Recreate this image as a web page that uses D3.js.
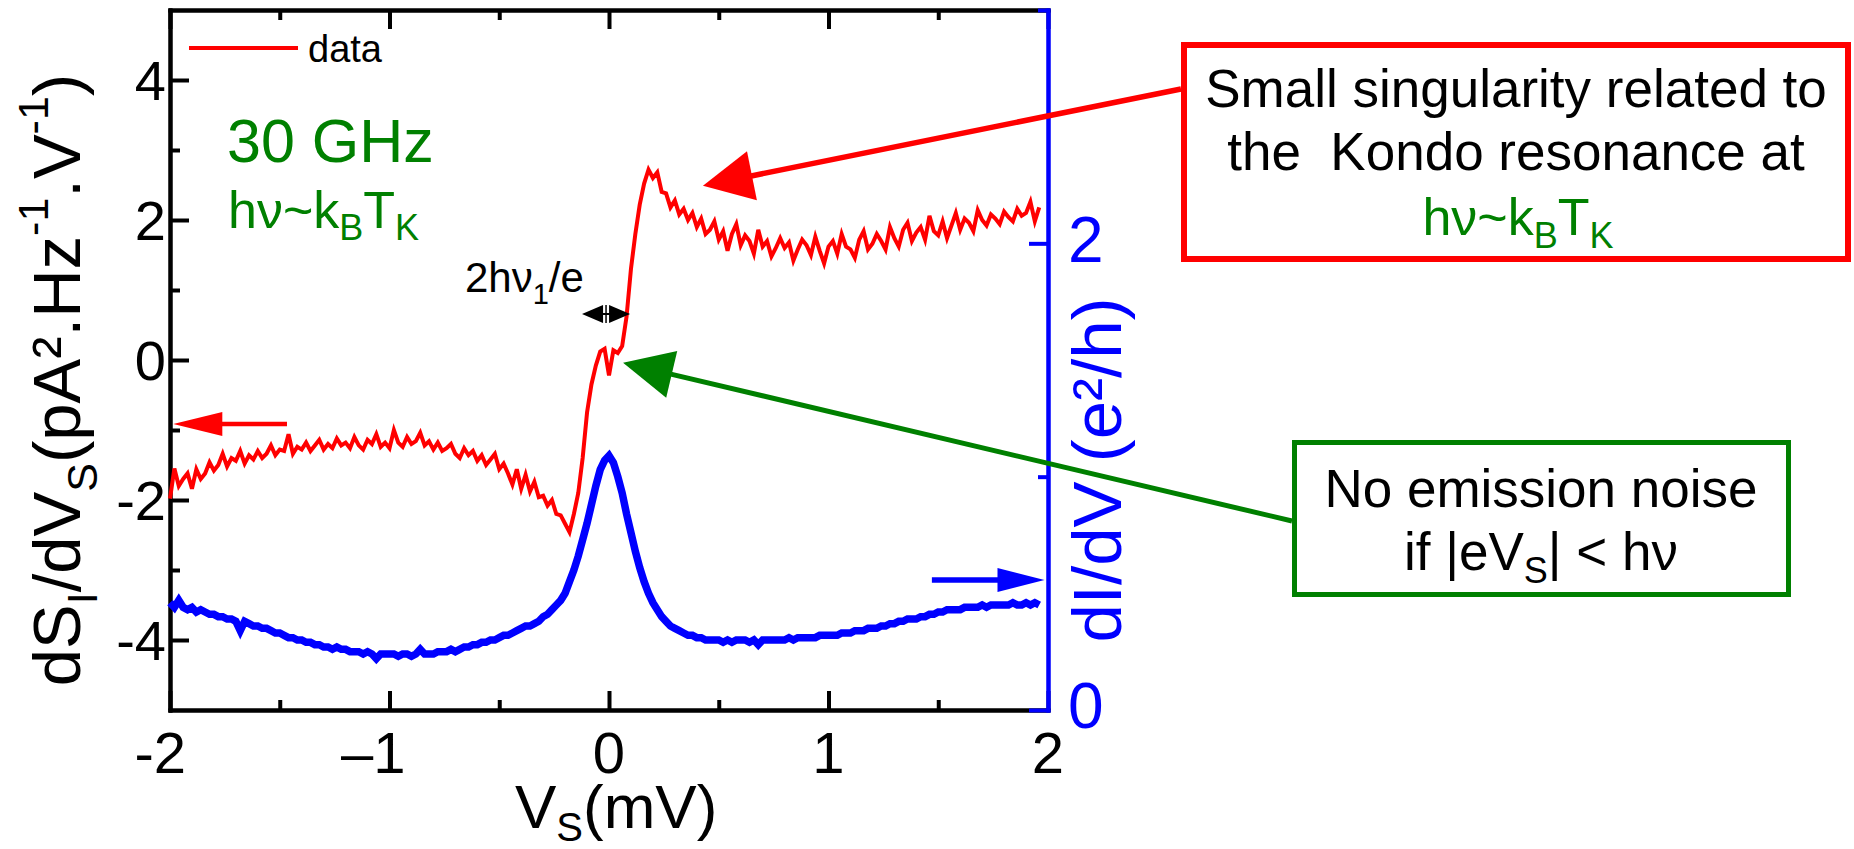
<!DOCTYPE html>
<html><head><meta charset="utf-8">
<script src="https://cdn.jsdelivr.net/npm/d3@7"></script>
<style>
html,body{margin:0;padding:0;background:#fff;}
svg{display:block;font-family:"Liberation Sans",Arial,sans-serif;}
</style></head>
<body><svg id="chart" width="1854" height="849"></svg>
<script>
// ---------- data ----------
const voltages = [
 -2.00,-1.98,-1.96,-1.94,-1.92,-1.90,-1.88,-1.86,-1.84,-1.82,
 -1.80,-1.78,-1.76,-1.74,-1.72,-1.70,-1.68,-1.66,-1.64,-1.62,
 -1.60,-1.58,-1.56,-1.54,-1.52,-1.50,-1.48,-1.46,-1.44,-1.42,
 -1.40,-1.38,-1.36,-1.34,-1.32,-1.30,-1.28,-1.26,-1.24,-1.22,
 -1.20,-1.18,-1.16,-1.14,-1.12,-1.10,-1.08,-1.06,-1.04,-1.02,
 -1.00,-0.98,-0.96,-0.94,-0.92,-0.90,-0.88,-0.86,-0.84,-0.82,
 -0.80,-0.78,-0.76,-0.74,-0.72,-0.70,-0.68,-0.66,-0.64,-0.62,
 -0.60,-0.58,-0.56,-0.54,-0.52,-0.50,-0.48,-0.46,-0.44,-0.42,
 -0.40,-0.38,-0.36,-0.34,-0.32,-0.30,-0.28,-0.26,-0.24,-0.22,
 -0.20,-0.18,-0.16,-0.14,-0.12,-0.10,-0.08,-0.06,-0.04,-0.02,
  0.00, 0.02, 0.04, 0.06, 0.08, 0.10, 0.12, 0.14, 0.16, 0.18,
  0.20, 0.22, 0.24, 0.26, 0.28, 0.30, 0.32, 0.34, 0.36, 0.38,
  0.40, 0.42, 0.44, 0.46, 0.48, 0.50, 0.52, 0.54, 0.56, 0.58,
  0.60, 0.62, 0.64, 0.66, 0.68, 0.70, 0.72, 0.74, 0.76, 0.78,
  0.80, 0.82, 0.84, 0.86, 0.88, 0.90, 0.92, 0.94, 0.96, 0.98,
  1.00, 1.02, 1.04, 1.06, 1.08, 1.10, 1.12, 1.14, 1.16, 1.18,
  1.20, 1.22, 1.24, 1.26, 1.28, 1.30, 1.32, 1.34, 1.36, 1.38,
  1.40, 1.42, 1.44, 1.46, 1.48, 1.50, 1.52, 1.54, 1.56, 1.58,
  1.60, 1.62, 1.64, 1.66, 1.68, 1.70, 1.72, 1.74, 1.76, 1.78,
  1.80, 1.82, 1.84, 1.86, 1.88, 1.90, 1.92, 1.94, 1.96
];
// dS_I/dV_S  (pA².Hz^-1.V^-1), left axis
const noiseDerivative = [
 -1.98,-1.55,-1.80,-1.70,-1.62,-1.84,-1.56,-1.70,-1.62,-1.46,
 -1.58,-1.50,-1.34,-1.52,-1.40,-1.44,-1.30,-1.48,-1.36,-1.42,
 -1.30,-1.40,-1.34,-1.22,-1.36,-1.28,-1.30,-1.06,-1.34,-1.24,
 -1.28,-1.18,-1.30,-1.22,-1.14,-1.28,-1.20,-1.26,-1.12,-1.22,
 -1.18,-1.26,-1.10,-1.22,-1.28,-1.14,-1.20,-1.06,-1.24,-1.18,
 -1.26,-1.00,-1.18,-1.24,-1.10,-1.20,-1.16,-1.04,-1.22,-1.16,
 -1.28,-1.18,-1.30,-1.26,-1.20,-1.34,-1.40,-1.26,-1.36,-1.30,
 -1.44,-1.36,-1.50,-1.42,-1.34,-1.56,-1.48,-1.62,-1.78,-1.56,
 -1.84,-1.64,-1.88,-1.74,-1.96,-1.94,-2.08,-2.00,-2.20,-2.22,
 -2.34,-2.46,-2.20,-1.90,-1.40,-0.75,-0.35,-0.08, 0.12, 0.16,
 -0.22, 0.14, 0.10, 0.20, 0.62, 1.30, 1.80, 2.22, 2.52, 2.72,
  2.60, 2.68, 2.40, 2.38, 2.18, 2.28, 2.08, 2.16, 2.00, 2.10,
  1.90, 2.02, 1.80, 1.86, 1.98, 1.72, 1.84, 1.56, 1.80, 1.94,
  1.64, 1.78, 1.70, 1.52, 1.86, 1.62, 1.70, 1.48, 1.60, 1.74,
  1.60, 1.68, 1.42, 1.58, 1.72, 1.64, 1.50, 1.76, 1.56, 1.38,
  1.62, 1.70, 1.52, 1.80, 1.62, 1.58, 1.46, 1.72, 1.84, 1.58,
  1.66, 1.80, 1.70, 1.58, 1.90, 1.74, 1.62, 1.86, 1.96, 1.70,
  1.82, 1.90, 1.72, 2.06, 1.84, 1.78, 1.98, 1.74, 1.92, 2.10,
  1.86, 2.02, 1.96, 1.84, 2.14, 2.00, 1.92, 2.08, 2.02, 1.94,
  2.12, 2.04, 1.98, 2.16, 2.06, 2.10, 2.26, 1.98, 2.18
];
// dI/dV (e²/h), right axis
const conductance = [
 0.46,0.44,0.47,0.44,0.43,0.44,0.42,0.43,0.42,0.41,
 0.41,0.40,0.40,0.39,0.39,0.38,0.34,0.38,0.37,0.36,
 0.36,0.35,0.35,0.34,0.33,0.33,0.32,0.31,0.31,0.30,
 0.30,0.29,0.29,0.28,0.28,0.27,0.27,0.26,0.27,0.26,
 0.26,0.25,0.25,0.25,0.24,0.25,0.24,0.22,0.24,0.24,
 0.24,0.24,0.23,0.24,0.24,0.23,0.24,0.26,0.24,0.24,
 0.24,0.25,0.25,0.25,0.26,0.25,0.26,0.27,0.27,0.28,
 0.28,0.29,0.29,0.30,0.30,0.31,0.32,0.32,0.33,0.34,
 0.35,0.36,0.36,0.37,0.38,0.40,0.41,0.43,0.45,0.47,
 0.50,0.55,0.60,0.66,0.73,0.80,0.88,0.96,1.03,1.07,
 1.09,1.06,1.00,0.93,0.84,0.76,0.68,0.61,0.55,0.50,
 0.46,0.43,0.40,0.38,0.36,0.35,0.34,0.33,0.32,0.32,
 0.31,0.31,0.30,0.30,0.30,0.30,0.29,0.30,0.29,0.30,
 0.30,0.30,0.29,0.30,0.28,0.30,0.30,0.30,0.30,0.30,
 0.30,0.31,0.30,0.31,0.31,0.31,0.31,0.31,0.32,0.32,
 0.32,0.32,0.32,0.33,0.33,0.33,0.34,0.34,0.34,0.35,
 0.35,0.35,0.36,0.36,0.37,0.37,0.38,0.38,0.39,0.39,
 0.39,0.40,0.40,0.41,0.41,0.42,0.42,0.43,0.43,0.43,
 0.43,0.44,0.44,0.44,0.44,0.45,0.44,0.45,0.45,0.45,
 0.45,0.45,0.46,0.45,0.45,0.46,0.45,0.46,0.45
];
const xTickValues = [-2,-1,0,1,2];
const xTickLabels = ["-2","\u20131","0","1","2"];
const xMinorTicks = [-1.5,-0.5,0.5,1.5];
const yLeftTickValues = [4,2,0,-2,-4];
const yLeftTickLabels = ["4","2","0","-2","-4"];
const yLeftMinorTicks = [3,1,-1,-3];
const yRightTickValues = [0,2];
const yRightTickLabels = ["0","2"];
const yRightMinorTicks = [1,3];

// ---------- layout ----------
const RED="#ff0000", BLUE="#0000ff", GREEN="#008000";
const svg=d3.select("#chart");
svg.append("rect").attr("width",1854).attr("height",849).attr("fill","#fff");
const x=d3.scaleLinear().domain([-2,2]).range([170,1048]);
const yL=d3.scaleLinear().domain([-5,5]).range([710,10]);
const yR=d3.scaleLinear().domain([0,3]).range([710,10]);

function styleAxis(g,color){
  g.select(".domain").attr("stroke",color).attr("stroke-width",4).attr("stroke-linecap","square");
  g.selectAll(".tick line").attr("stroke",color).attr("stroke-width",4);
  g.selectAll(".tick text").remove();
}
function addAxis(gen,tr,vals,size,color){
  const g=svg.append("g").attr("transform",tr)
    .call(gen.tickValues(vals).tickSize(-size).tickSizeOuter(0).tickFormat(""));
  styleAxis(g,color);
}
addAxis(d3.axisBottom(x),"translate(0,710)",xTickValues,19,"#000");
addAxis(d3.axisBottom(x),"translate(0,710)",xMinorTicks,10,"#000");
addAxis(d3.axisTop(x),"translate(0,10)",xTickValues,19,"#000");
addAxis(d3.axisTop(x),"translate(0,10)",xMinorTicks,10,"#000");
addAxis(d3.axisLeft(yL),"translate(170,0)",yLeftTickValues,19,"#000");
addAxis(d3.axisLeft(yL),"translate(170,0)",yLeftMinorTicks,10,"#000");
addAxis(d3.axisRight(yR),"translate(1048,0)",yRightTickValues,19,BLUE);
addAxis(d3.axisRight(yR),"translate(1048,0)",yRightMinorTicks,10,BLUE);

// tick labels
svg.append("g").selectAll("text").data(xTickValues).enter().append("text")
  .attr("x",d=>x(d)+0.278*58).attr("y",773).attr("text-anchor","end")
  .attr("font-size",58).attr("fill","#000").text((d,i)=>xTickLabels[i]);
svg.append("g").selectAll("text").data(yLeftTickValues).enter().append("text")
  .attr("x",166).attr("y",d=>yL(d)).attr("dy","0.35em").attr("text-anchor","end")
  .attr("font-size",56).attr("fill","#000").text((d,i)=>yLeftTickLabels[i]);
svg.append("g").selectAll("text").data(yRightTickValues).enter().append("text")
  .attr("x",1068).attr("y",d=>yR(d)-4).attr("dy","0.35em").attr("text-anchor","start")
  .attr("font-size",64).attr("fill",BLUE).text((d,i)=>yRightTickLabels[i]);

// rich text helper: parts = [[text, kind]] kind: "n","sub","sup"
function rich(textSel,parts,fs,subFs,subDy,supDy){
  let shift=0;
  parts.forEach(([t,k])=>{
    const ts=textSel.append("tspan").text(t);
    let target=0;
    if(k==="sub"){ts.attr("font-size",subFs);target=subDy;}
    else if(k==="sup"){ts.attr("font-size",subFs);target=supDy;}
    else ts.attr("font-size",fs);
    if(target!==shift){ts.attr("dy",target-shift);shift=target;}
  });
  return textSel;
}

// axis titles
rich(svg.append("text").attr("transform","translate(80,380) rotate(-90)")
  .attr("text-anchor","middle").attr("fill","#000").style("white-space","pre"),
  [["dS","n"],["I","sub"],["/dV","n"],["S","sub"],["(pA\u00b2.Hz","n"],["-1","sup"],[".V","n"],["-1","sup"],[")","n"]],
  67,43,17,-32);
svg.append("text").attr("transform","translate(1121,470) rotate(-90)")
  .attr("text-anchor","middle").attr("fill",BLUE).attr("font-size",69)
  .style("white-space","pre").text("dI/dV (e\u00b2/h)");
rich(svg.append("text").attr("x",515).attr("y",828).attr("fill","#000"),
  [["V","n"],["S","sub"],["(mV)","n"]],62,40,13,0);

// curves
const lineL=d3.line().x((d,i)=>x(voltages[i])).y(d=>yL(d));
const lineR=d3.line().x((d,i)=>x(voltages[i])).y(d=>yR(d));
svg.append("path").datum(conductance).attr("d",lineR).attr("fill","none")
  .attr("stroke",BLUE).attr("stroke-width",7.5).attr("stroke-linejoin","miter");
svg.append("path").datum(noiseDerivative).attr("d",lineL).attr("fill","none")
  .attr("stroke",RED).attr("stroke-width",4).attr("stroke-linejoin","miter");

// legend
svg.append("line").attr("x1",189).attr("x2",298).attr("y1",48).attr("y2",48)
  .attr("stroke",RED).attr("stroke-width",4);
svg.append("text").attr("x",308).attr("y",62).attr("font-size",38).text("data");

// left annotations
svg.append("text").attr("x",227).attr("y",162).attr("font-size",61).attr("fill",GREEN).text("30 GHz");
rich(svg.append("text").attr("x",228).attr("y",228).attr("fill",GREEN),
  [["h\u03bd~k","n"],["B","sub"],["T","n"],["K","sub"]],52,36,12,0);
rich(svg.append("text").attr("x",465).attr("y",292).attr("fill","#000"),
  [["2h\u03bd","n"],["1","sub"],["/e","n"]],42,29,12,0);

// arrow helper
function arrow(x1,y1,x2,y2,len,half,w,color){
  const dx=x2-x1, dy=y2-y1, L=Math.hypot(dx,dy), ux=dx/L, uy=dy/L;
  const bx=x2-ux*len, by=y2-uy*len, px=-uy, py=ux;
  svg.append("line").attr("x1",x1).attr("y1",y1).attr("x2",bx+ux*2).attr("y2",by+uy*2)
    .attr("stroke",color).attr("stroke-width",w);
  svg.append("polygon").attr("points",[[x2,y2],[bx+px*half,by+py*half],[bx-px*half,by-py*half]].map(p=>p.join(",")).join(" "))
    .attr("fill",color);
}
// axis arrows
arrow(x(-1.467),yL(-0.914),x(-1.985),yL(-0.914),49,12,4.5,RED);
arrow(x(1.471),yR(0.557),x(1.984),yR(0.557),47,12,5.5,BLUE);

// double arrow 2hν1/e
(function(){
  const yy=yL(0.657), xa=x(-0.123), xb=x(0.096), xm=(xa+xb)/2;
  svg.append("line").attr("x1",xa+5).attr("x2",xb-5).attr("y1",yy).attr("y2",yy).attr("stroke","#000").attr("stroke-width",2);
  svg.append("polygon").attr("points",`${xa},${yy} ${xm-3},${yy-9} ${xm-3},${yy+9}`).attr("fill","#000");
  svg.append("polygon").attr("points",`${xb},${yy} ${xm+3},${yy-9} ${xm+3},${yy+9}`).attr("fill","#000");
  svg.append("line").attr("x1",xm).attr("x2",xm).attr("y1",yy-9).attr("y2",yy+9).attr("stroke","#000").attr("stroke-width",1.5);
})();

// boxes
svg.append("rect").attr("x",1184).attr("y",45).attr("width",664).attr("height",214)
  .attr("fill","none").attr("stroke",RED).attr("stroke-width",6);
svg.append("rect").attr("x",1294.5).attr("y",442.5).attr("width",494).attr("height",152)
  .attr("fill","none").attr("stroke",GREEN).attr("stroke-width",5);

svg.append("text").attr("x",1516).attr("y",107).attr("text-anchor","middle").attr("font-size",53)
  .text("Small singularity related to");
svg.append("text").attr("x",1516).attr("y",170).attr("text-anchor","middle").attr("font-size",53)
  .style("white-space","pre").text("the  Kondo resonance at");
rich(svg.append("text").attr("x",1518).attr("y",235).attr("text-anchor","middle").attr("fill",GREEN),
  [["h\u03bd~k","n"],["B","sub"],["T","n"],["K","sub"]],52,36,13,0);

svg.append("text").attr("x",1541).attr("y",507).attr("text-anchor","middle").attr("font-size",53)
  .text("No emission noise");
rich(svg.append("text").attr("x",1541).attr("y",570).attr("text-anchor","middle").attr("fill","#000"),
  [["if |eV","n"],["S","sub"],["| < h\u03bd","n"]],53,36,13,0);

// callout arrows
arrow(1181,89,x(0.428),yL(2.49),50,25,5.5,RED);
arrow(1292,521,x(0.064),yL(-0.04),50,24,5,GREEN);
</script>
</body></html>
